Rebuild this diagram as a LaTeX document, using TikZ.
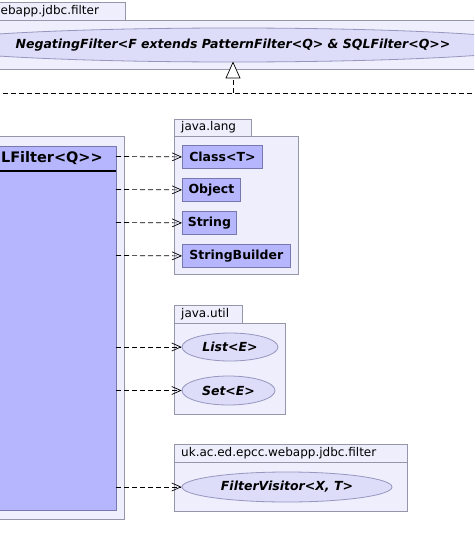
\documentclass[tikz,border=0pt]{standalone}
\usepackage{fontspec}
\setmainfont{DejaVu Sans}[Ligatures=ResetAll]
\usetikzlibrary{arrows.meta,shapes.geometric}
\definecolor{pkgfill}{RGB}{238,238,252}
\definecolor{pkgline}{RGB}{150,150,170}
\definecolor{clsfill}{RGB}{182,182,255}
\definecolor{clsline}{RGB}{120,120,175}
\definecolor{ifill}{RGB}{221,221,250}
\definecolor{iline}{RGB}{150,150,190}
\tikzset{
  pkg/.style={draw=pkgline, fill=pkgfill, line width=0.8pt},
  tab/.style={draw=pkgline, fill=pkgfill, line width=0.8pt, anchor=north west, inner sep=0pt, font=\fontsize{12}{12}\selectfont},
  cls/.style={draw=clsline, fill=clsfill, line width=0.8pt, anchor=north west, inner sep=0pt, font=\bfseries\fontsize{12.5}{12.5}\selectfont},
  iface/.style={ellipse, draw=iline, fill=ifill, line width=0.8pt, inner sep=0pt, font=\bfseries\itshape\fontsize{12.5}{12.5}\selectfont},
  dep/.style={draw=black, line width=0.7pt, dash pattern=on 5pt off 3pt, -{Straight Barb[length=9pt,width=8pt]}},
  realize/.style={draw=black, line width=0.7pt, dash pattern=on 5pt off 3pt}
}
\begin{document}
\begin{tikzpicture}[x=1pt,y=-1pt]
\useasboundingbox (0,0) rectangle (474,557);
\fill[white] (0,0) rectangle (474,557);
\begin{scope}
\clip (0,0) rectangle (474,557);
% top package
\node[tab, minimum width=130pt, minimum height=18pt] (toptab) at (-5,2) {};
\node[anchor=west, inner sep=0pt, font=\fontsize{12}{12}\selectfont] (toptabtxt) at (0.5,11) {ebapp.jdbc.filter};
\draw[pkg] (-5,20) rectangle (480,69);
\node[iface, minimum width=520pt, minimum height=34pt] (neg) at (233,45) {NegatingFilter<F extends PatternFilter<Q> \& SQLFilter<Q>{}>};
% realization
\coordinate (rj) at (233,93);
\coordinate (rl) at (-5,93);
\coordinate (rr) at (480,93);
\draw[realize] (rl) -- (rr);
\draw[realize] (rj) -- (233,78);
\draw[line width=0.7pt, fill=white] (neg.south) -- (226,78) -- (240,78) -- cycle;
% main package
\draw[pkg] (-5,136) rectangle (124,519);
\draw[draw=clsline, fill=clsfill, line width=0.8pt] (-5,146) rectangle (116,510);
\node[anchor=east, inner sep=0pt, font=\bfseries\fontsize{14.5}{14.5}\selectfont] (title) at (103,158) {LFilter<Q>{}>};
\draw[black, line width=1.8pt] (-5,171) -- (116,171);
\end{scope}
% java.lang
\node[tab, minimum width=77pt, minimum height=17pt] (langtab) at (174,119) {};
\node[anchor=west, inner sep=0pt, font=\fontsize{12}{12}\selectfont] (langtxt) at (181,127.5) {java.lang};
\draw[pkg] (174,136) rectangle (298,274);
\node[cls, minimum width=80pt, minimum height=23pt] (classT) at (182,145) {Class<T>};
\node[cls, minimum width=58pt, minimum height=23pt] (object) at (182,178) {Object};
\node[cls, minimum width=54pt, minimum height=23pt] (string) at (182,211) {String};
\node[cls, minimum width=108pt, minimum height=23pt] (sb) at (182,244) {StringBuilder};
% java.util
\node[tab, minimum width=68pt, minimum height=18pt] (utiltab) at (174,305) {};
\node[anchor=west, inner sep=0pt, font=\fontsize{12}{12}\selectfont] (utiltxt) at (181,314) {java.util};
\draw[pkg] (174,323) rectangle (285,414);
\node[iface, minimum width=96pt, minimum height=28pt] (list) at (230,347) {List<E>};
\node[iface, minimum width=93pt, minimum height=29pt] (set) at (228.5,390.5) {Set<E>};
% uk.ac.ed package
\node[tab, minimum width=233pt, minimum height=18pt] (uktab) at (174,444) {};
\node[anchor=west, inner sep=0pt, font=\fontsize{12}{12}\selectfont] (uktxt) at (181,453) {uk.ac.ed.epcc.webapp.jdbc.filter};
\draw[pkg] (174,462) rectangle (407,511);
\node[iface, minimum width=210pt, minimum height=30pt] (fv) at (287,487) {FilterVisitor<X, T>};
% dependencies
\coordinate (d1) at (116,156.5);
\coordinate (d2) at (116,189.5);
\coordinate (d3) at (116,222.5);
\coordinate (d4) at (116,255.5);
\coordinate (d5) at (116,347);
\coordinate (d6) at (116,390.5);
\coordinate (d7) at (116,487);
\draw[dep] (d1) -- (classT.west);
\draw[dep] (d2) -- (object.west);
\draw[dep] (d3) -- (string.west);
\draw[dep] (d4) -- (sb.west);
\draw[dep] (d5) -- (list.west);
\draw[dep] (d6) -- (set.west);
\draw[dep] (d7) -- (fv.west);
\end{tikzpicture}
\end{document}
